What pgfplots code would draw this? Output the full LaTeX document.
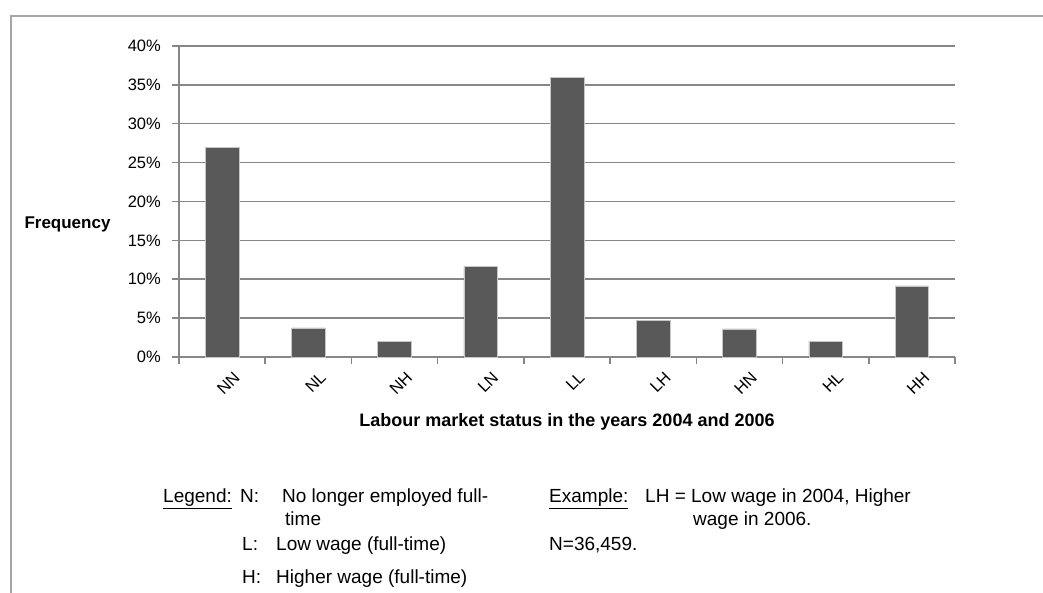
\documentclass[border=0pt]{standalone}
\usepackage{pgfplots}
\pgfplotsset{compat=1.18}
\usepackage{fontspec}
\setmainfont{Liberation Sans}
\definecolor{barc}{HTML}{595959}
\definecolor{gridc}{HTML}{878787}
\definecolor{framec}{HTML}{A6A6A6}
\begin{document}
\begin{tikzpicture}[x=1bp,y=1bp]
\path[use as bounding box] (0,0) rectangle (1043,593);
\draw[framec, line width=1.3bp] (11,0) -- (11,577) -- (1043,577);
\begin{axis}[
  at={(179bp,236bp)}, anchor=south west,
  scale only axis, width=776bp, height=311bp,
  xmin=-0.5, xmax=8.5, ymin=0, ymax=40,
  axis x line=bottom, axis y line=left,
  axis line style={gridc, line width=1.5bp, -},
  ytick={0,5,...,40},
  /pgf/number format/assume math mode=true,
  yticklabel={\pgfmathprintnumber{\tick}\%},
  ymajorgrids, grid style={gridc, line width=1.5bp},
  xtick={0,1,2,3,4,5,6,7,8},
  xticklabels={NN,NL,NH,LN,LL,LH,HN,HL,HH},
  minor xtick={-0.5,0.5,1.5,2.5,3.5,4.5,5.5,6.5,7.5,8.5},
  tick align=outside, major tick length=7bp, minor tick length=7bp,
  tick style={gridc, line width=1.5bp},
  every major x tick/.append style={draw=none},
  xticklabel style={rotate=45, anchor=north east, inner sep=0pt, yshift=-12bp, xshift=3bp},
  yticklabel style={anchor=east, inner sep=0pt, xshift=-11bp},
  tick label style={font=\fontsize{16.5bp}{19bp}\selectfont, black},
  clip=false,
]
\addplot[ybar, fill=barc, draw=gray!45, line width=0.6bp, bar width=0.39]
  coordinates {(0,27.0) (1,3.75) (2,2.0) (3,11.7) (4,36.0) (5,4.75) (6,3.6) (7,2.05) (8,9.15)};
\end{axis}
\node[anchor=base west, font=\bfseries\fontsize{17bp}{20bp}\selectfont] at (21,364) {Frequency};
\node[anchor=base, font=\bfseries\fontsize{18bp}{21bp}\selectfont] at (567,166) {Labour market status in the years 2004 and 2006};
\begin{scope}[every node/.style={anchor=base west, inner sep=0pt, font=\fontsize{19bp}{22bp}\selectfont}]
\node at (163,90) {\underline{Legend:}};
\node at (240,90) {N:};
\node at (282,90) {No longer employed full-};
\node at (285,67) {time};
\node at (242,42) {L:};
\node at (276,42) {Low wage (full-time)};
\node at (242,9) {H:};
\node at (276,9) {Higher wage (full-time)};
\node at (549,90) {\underline{Example:}};
\node at (645,90) {LH = Low wage in 2004, Higher};
\node at (693,67) {wage in 2006.};
\node at (549,42) {N=36,459.};
\end{scope}
\end{tikzpicture}
\end{document}
